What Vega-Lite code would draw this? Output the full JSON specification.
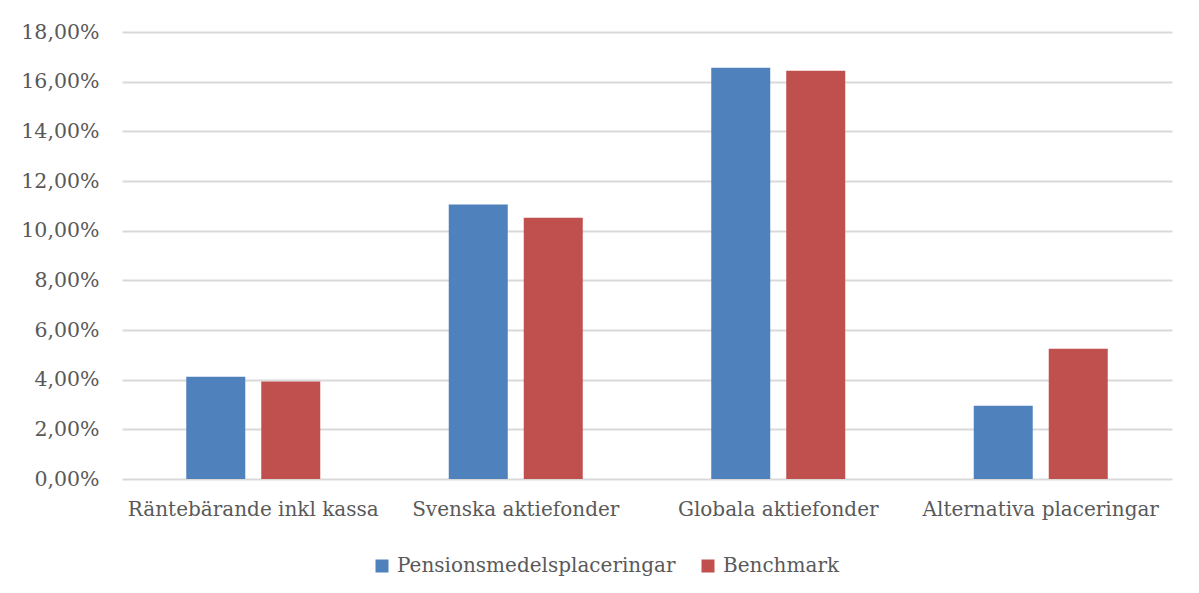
{
  "$schema": "https://vega.github.io/schema/vega-lite/v6.json",
  "width": 1050,
  "height": 447,
  "autosize": {"type": "none"},
  "padding": {"left": 122, "top": 32, "right": 27, "bottom": 114},
  "background": "white",
  "data": {
    "values": [
      {"kategori": "Räntebärande inkl kassa", "serie": "Pensionsmedelsplaceringar", "varde": 0.0412},
      {"kategori": "Räntebärande inkl kassa", "serie": "Benchmark", "varde": 0.0393},
      {"kategori": "Svenska aktiefonder", "serie": "Pensionsmedelsplaceringar", "varde": 0.1105},
      {"kategori": "Svenska aktiefonder", "serie": "Benchmark", "varde": 0.1052},
      {"kategori": "Globala aktiefonder", "serie": "Pensionsmedelsplaceringar", "varde": 0.1656},
      {"kategori": "Globala aktiefonder", "serie": "Benchmark", "varde": 0.1644},
      {"kategori": "Alternativa placeringar", "serie": "Pensionsmedelsplaceringar", "varde": 0.0295},
      {"kategori": "Alternativa placeringar", "serie": "Benchmark", "varde": 0.0525}
    ]
  },
  "mark": {"type": "bar"},
  "encoding": {
    "x": {
      "field": "kategori",
      "type": "nominal",
      "sort": null,
      "title": null,
      "scale": {"paddingInner": 0.4895, "paddingOuter": 0.2448},
      "axis": {
        "labelAngle": 0,
        "labelPadding": 20,
        "labelLimit": 0,
        "ticks": false,
        "domain": false,
        "labelFont": "DejaVu Serif",
        "labelFontSize": 20,
        "labelColor": "#595959"
      }
    },
    "xOffset": {
      "field": "serie",
      "type": "nominal",
      "sort": ["Pensionsmedelsplaceringar", "Benchmark"],
      "scale": {"paddingInner": 0.2133, "paddingOuter": 0}
    },
    "y": {
      "field": "varde",
      "type": "quantitative",
      "title": null,
      "scale": {"domain": [0, 0.18], "nice": false},
      "axis": {
        "values": [0, 0.02, 0.04, 0.06, 0.08, 0.1, 0.12, 0.14, 0.16, 0.18],
        "labelExpr": "replace(format(datum.value, '.2%'), '.', ',')",
        "ticks": false,
        "domain": false,
        "labelPadding": 23,
        "labelFont": "DejaVu Serif",
        "labelFontSize": 20.5,
        "labelColor": "#595959",
        "gridColor": "#d9d9d9",
        "gridWidth": 2
      }
    },
    "color": {
      "field": "serie",
      "type": "nominal",
      "sort": ["Pensionsmedelsplaceringar", "Benchmark"],
      "scale": {"domain": ["Pensionsmedelsplaceringar", "Benchmark"], "range": ["#4F81BD", "#C0504D"]},
      "legend": {
        "title": null,
        "orient": "none",
        "direction": "horizontal",
        "legendX": 250,
        "legendY": 524,
        "symbolType": "square",
        "symbolSize": 169,
        "symbolStrokeWidth": 0,
        "labelFont": "DejaVu Serif",
        "labelFontSize": 20,
        "labelLimit": 0,
        "labelColor": "#595959",
        "labelOffset": 5,
        "columnPadding": 22
      }
    }
  },
  "config": {
    "view": {"stroke": null}
  }
}
